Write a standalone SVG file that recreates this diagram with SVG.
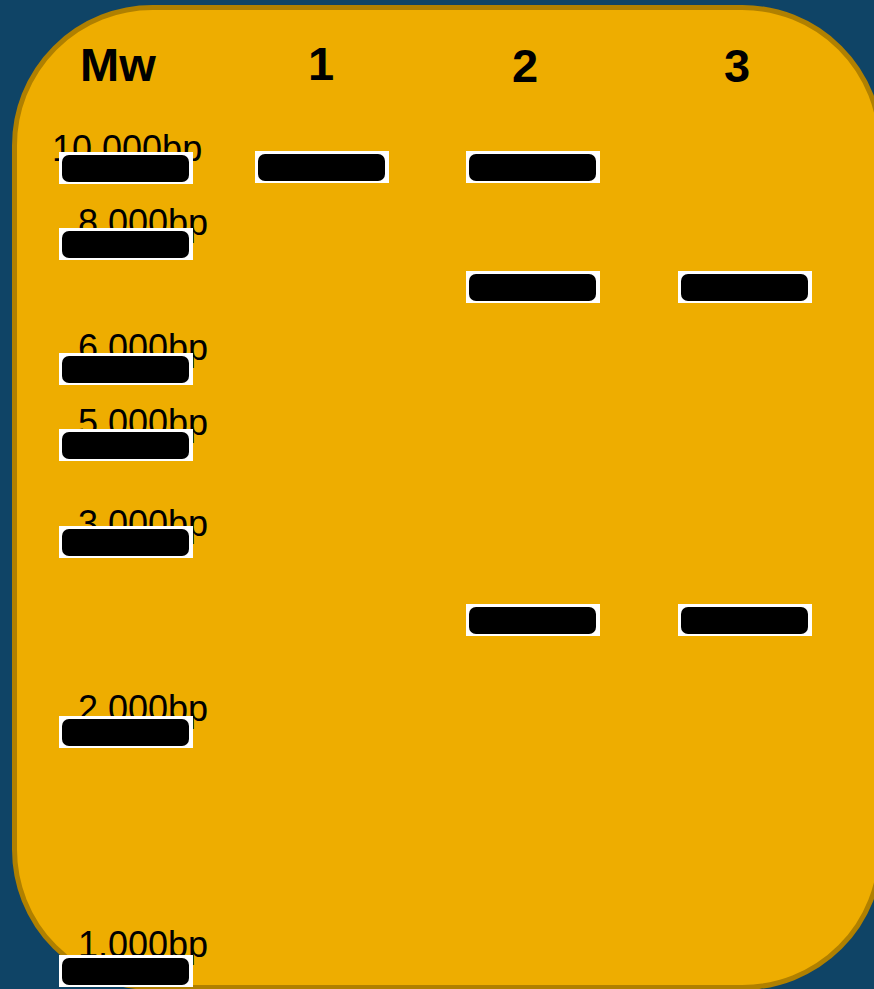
<svg xmlns="http://www.w3.org/2000/svg" width="874" height="989" viewBox="0 0 874 989">
<style>
.hdr{font-family:"Liberation Sans",Arial,sans-serif;font-weight:bold;font-size:47px;fill:#000}
.lbl{font-family:"Liberation Sans",Arial,sans-serif;font-size:36px;fill:#000}
.bg{fill:#fff}
.band{fill:#000}
</style>
<defs>
<g id="bandShape">
<rect class="bg" x="0" y="0" width="134" height="32"/>
<rect class="band" x="3" y="3" width="127" height="27" rx="7" ry="7"/>
</g>
</defs>
<rect x="0" y="0" width="874" height="989" fill="#0F4466"/>
<rect id="gel" x="14.5" y="7.5" width="866" height="980" rx="138" ry="138" fill="#EEAD00" stroke="#B08000" stroke-width="5"/>
<g id="headers">
<text class="hdr" x="80" y="81">Mw</text>
<text class="hdr" x="321" y="80" text-anchor="middle">1</text>
<text class="hdr" x="525" y="82" text-anchor="middle">2</text>
<text class="hdr" x="737" y="82" text-anchor="middle">3</text>
</g>
<g id="marker-labels">
<text class="lbl" x="52" y="161">10.000bp</text>
<text class="lbl" x="78" y="235">8.000bp</text>
<text class="lbl" x="78" y="360">6.000bp</text>
<text class="lbl" x="78" y="435">5.000bp</text>
<text class="lbl" x="78" y="536">3.000bp</text>
<text class="lbl" x="78" y="721">2.000bp</text>
<text class="lbl" x="78" y="957">1.000bp</text>
</g>
<g id="ladder">
<g id="mw-10000"><use href="#bandShape" x="59" y="152"/></g>
<g id="mw-8000"><use href="#bandShape" x="59" y="228"/></g>
<g id="mw-6000"><use href="#bandShape" x="59" y="353"/></g>
<g id="mw-5000"><use href="#bandShape" x="59" y="429"/></g>
<g id="mw-3000"><use href="#bandShape" x="59" y="526"/></g>
<g id="mw-2000"><use href="#bandShape" x="59" y="716"/></g>
<g id="mw-1000"><use href="#bandShape" x="59" y="955"/></g>
</g>
<g id="lane1">
<g id="l1-b1"><use href="#bandShape" x="255" y="151"/></g>
</g>
<g id="lane2">
<g id="l2-b1"><use href="#bandShape" x="466" y="151"/></g>
<g id="l2-b2"><use href="#bandShape" x="466" y="271"/></g>
<g id="l2-b3"><use href="#bandShape" x="466" y="604"/></g>
</g>
<g id="lane3">
<g id="l3-b1"><use href="#bandShape" x="678" y="271"/></g>
<g id="l3-b2"><use href="#bandShape" x="678" y="604"/></g>
</g>
<g id="connectors"/>
</svg>
